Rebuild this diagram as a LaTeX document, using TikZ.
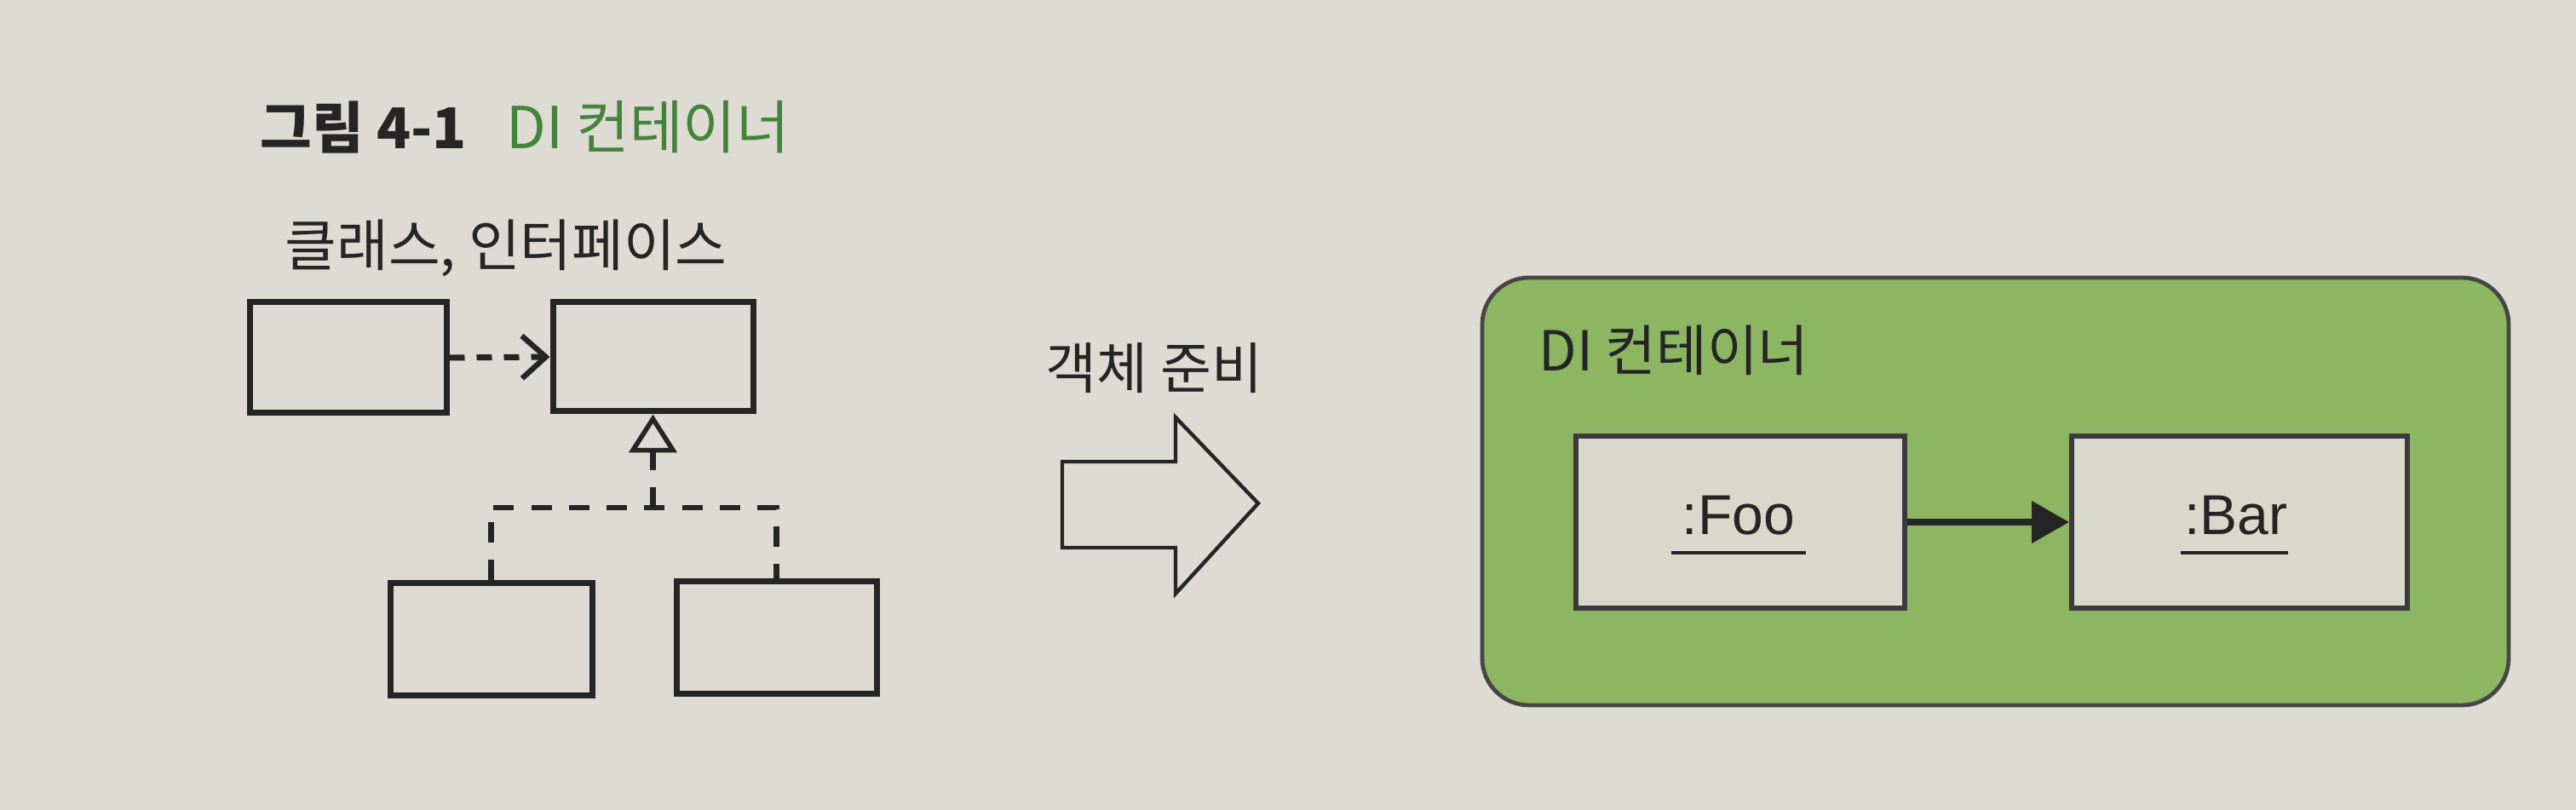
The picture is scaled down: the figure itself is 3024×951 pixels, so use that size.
\documentclass[tikz,border=0pt]{standalone}
\usepackage{fontspec}
\setmainfont{Liberation Sans}
\newfontfamily\kr{Noto Sans CJK KR}
\usetikzlibrary{arrows.meta}
\definecolor{paper}{HTML}{DDDBD3}
\definecolor{ink}{HTML}{252525}
\definecolor{contgreen}{HTML}{8CB661}
\definecolor{titlegreen}{HTML}{44833A}
\definecolor{objfill}{HTML}{D9D9CB}
\tikzset{
  lbl/.style={inner sep=0pt, anchor=base west, text=ink},
  umlbox/.style={draw=ink, line width=1.75pt, inner sep=0pt},
  dashline/.style={draw=ink, line width=1.6pt, dash pattern=on 6pt off 5.06pt},
  objbox/.style={draw=ink!90, line width=1.5pt, fill=objfill, inner sep=0pt,
                 minimum height=50.5pt},
  container/.style={draw=ink!85, line width=1.2pt, fill=contgreen,
                    rounded corners=13.75pt, inner sep=0pt},
  uline/.style={draw=ink, line width=0.8pt},
}
\begin{document}
\begin{tikzpicture}[x=0.25pt,y=-0.25pt]
\fill[paper] (0,0) rectangle (3024,951);
\useasboundingbox (0,0) rectangle (3024,951);

% title
\node[lbl] (tnum) at (305,175) {\kr\fontsize{16.5pt}{19pt}\selectfont\bfseries 그림 4-1};
\node[lbl, text=titlegreen] (tname) at (594,175) {\kr\fontsize{17pt}{20pt}\selectfont DI 컨테이너};

% classes / interfaces
\node[lbl] (cilabel) at (334,313) {\kr\fontsize{16.5pt}{19pt}\selectfont 클래스, 인터페이스};
\node[umlbox, minimum width=57.75pt, minimum height=32.5pt] (A) at (408.5,420) {};
\node[umlbox, minimum width=58.75pt, minimum height=32pt] (B) at (766.5,419) {};
\node[umlbox, minimum width=59.25pt, minimum height=33pt] (C) at (576.5,751) {};
\node[umlbox, minimum width=58.75pt, minimum height=33pt] (D) at (911.5,748.5) {};

\draw[draw=ink, line width=1.75pt, dash pattern=on 4.5pt off 3.5pt,
      -{Straight Barb[length=7pt,width=12.5pt,line width=1.6pt]}] (A.east) -- (B.west);

\coordinate (jn) at (766.5,596);
\draw[dashline] (C.north) |- (jn) -| (D.north);
\draw[dashline, -{Triangle[open,length=11.25pt,width=14pt,line width=1.4pt]}] (jn) -- (B.south);

% block arrow
\node[lbl] (prep) at (1227,457) {\kr\fontsize{16.3pt}{19pt}\selectfont 객체 준비};
\draw[draw=ink, line width=1.1pt, line join=miter]
  (1247,542) -- (1380,542) -- (1380,490) -- (1477,591) -- (1380,697) -- (1380,643) -- (1247,643) -- cycle;

% DI container
\node[container, minimum width=301.25pt, minimum height=125.5pt] (cont) at (2342.5,577) {};
\node[lbl] (contlabel) at (1806,436) {\kr\fontsize{16.2pt}{19pt}\selectfont DI 컨테이너};
\node[objbox, minimum width=96.5pt] (foo) at (2043,613) {};
\node[objbox, minimum width=98.5pt] (bar) at (2629,613) {};
\node[inner sep=0pt, anchor=base, text=ink] (footxt) at (2041,628) {\fontsize{16.5pt}{19pt}\selectfont :Foo};
\node[inner sep=0pt, anchor=base, text=ink] (bartxt) at (2625,628) {\fontsize{16.5pt}{19pt}\selectfont :Bar};
\draw[uline] ([xshift=-3pt,yshift=-5.25pt]footxt.base west) -- ([xshift=3pt,yshift=-5.25pt]footxt.base east);
\draw[uline] ([xshift=-1pt,yshift=-5.25pt]bartxt.base west) -- ([xshift=0pt,yshift=-5.25pt]bartxt.base east);
\draw[draw=ink, line width=2pt, -{Triangle[length=11pt,width=12pt]}] (foo.east) -- (bar.west);
\end{tikzpicture}
\end{document}
